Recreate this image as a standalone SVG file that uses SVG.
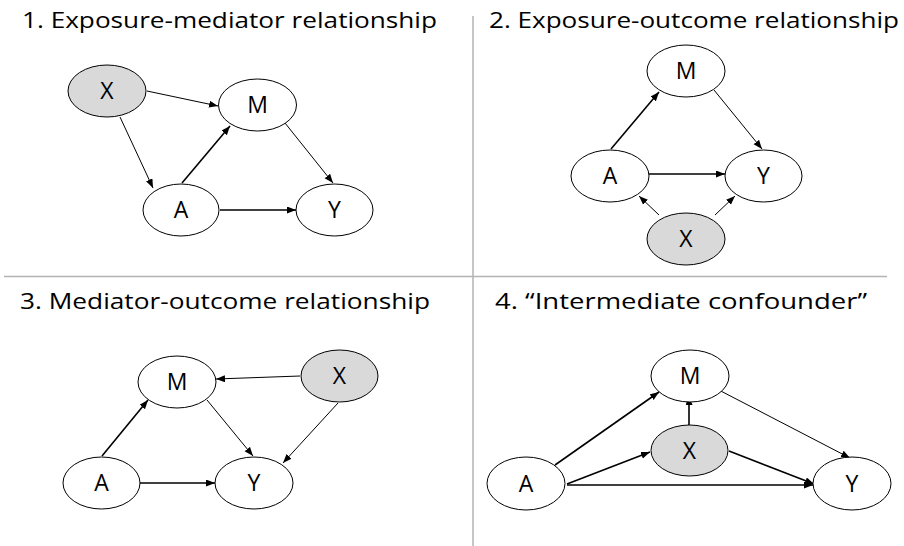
<svg xmlns="http://www.w3.org/2000/svg" width="904" height="546" viewBox="0 0 904 546">
<defs>
<marker id="ah" markerUnits="userSpaceOnUse" markerWidth="10" markerHeight="8" refX="9" refY="3.5" orient="auto">
<path d="M0,0 L9,3.5 L0,7 z" fill="#000"/>
</marker>
<style>
.title{font-family:"Open Sans","Noto Sans","Liberation Sans",sans-serif;font-size:21.5px;fill:#000}
.lbl{font-family:"Open Sans","Noto Sans","Liberation Sans",sans-serif;font-size:23px;fill:#000;text-anchor:middle}
.n{fill:#fff;stroke:#000;stroke-width:1}
.g{fill:#d9d9d9;stroke:#000;stroke-width:1}
.e{stroke:#000;stroke-width:1;fill:none;marker-end:url(#ah)}
.t{stroke:#000;stroke-width:1.6;fill:none;marker-end:url(#ah)}
.div{stroke:#b3b3b3;stroke-width:1.5}
</style>
</defs>
<rect width="904" height="546" fill="#fff"/>
<g id="dividers">
<line class="div" x1="473" y1="16" x2="473" y2="546"/>
<line class="div" x1="4" y1="276.5" x2="887" y2="276.5"/>
</g>
<g id="titles">
<text class="title" x="22" y="28" textLength="415" lengthAdjust="spacingAndGlyphs">1. Exposure-mediator relationship</text>
<text class="title" x="489" y="28" textLength="410" lengthAdjust="spacingAndGlyphs">2. Exposure-outcome relationship</text>
<text class="title" x="20" y="309" textLength="410" lengthAdjust="spacingAndGlyphs">3. Mediator-outcome relationship</text>
<text class="title" x="495" y="309" textLength="372" lengthAdjust="spacingAndGlyphs">4. “Intermediate confounder”</text>
</g>
<g id="connectors">
<line class="e" x1="147" y1="91" x2="218" y2="106"/>
<line class="e" x1="120" y1="117" x2="153" y2="188"/>
<line class="t" x1="182" y1="183" x2="230" y2="126"/>
<line class="e" x1="285" y1="123" x2="333" y2="183"/>
<line class="t" x1="220" y1="210" x2="296" y2="210"/>
<line class="t" x1="611" y1="149" x2="659" y2="92"/>
<line class="e" x1="714" y1="90" x2="762" y2="149"/>
<line class="t" x1="649" y1="174" x2="725" y2="174"/>
<line class="e" x1="659" y1="215" x2="639" y2="196"/>
<line class="e" x1="715" y1="215" x2="735" y2="196"/>
<line class="e" x1="300" y1="376" x2="216" y2="379"/>
<line class="t" x1="102" y1="456" x2="148" y2="400"/>
<line class="e" x1="207" y1="400" x2="253" y2="456"/>
<line class="e" x1="338" y1="403" x2="283" y2="463"/>
<line class="t" x1="140" y1="483" x2="215" y2="483"/>
<line class="t" x1="555" y1="465" x2="659" y2="392"/>
<line class="t" x1="567" y1="484" x2="650" y2="452"/>
<line class="t" x1="567" y1="485" x2="813" y2="485"/>
<line class="t" x1="689" y1="425" x2="689" y2="396"/>
<line class="t" x1="729" y1="451" x2="814" y2="484"/>
<line class="e" x1="715" y1="388" x2="850" y2="458"/>
</g>
<g id="q1-X"><ellipse class="g" cx="107" cy="91" rx="39" ry="26"/><text class="lbl" x="107" y="99">X</text></g>
<g id="q1-M"><ellipse class="n" cx="257.5" cy="105" rx="39" ry="26"/><text class="lbl" x="257.5" y="113">M</text></g>
<g id="q1-A"><ellipse class="n" cx="181" cy="210" rx="38" ry="26"/><text class="lbl" x="181" y="218">A</text></g>
<g id="q1-Y"><ellipse class="n" cx="334.5" cy="210" rx="38.5" ry="26"/><text class="lbl" x="334.5" y="218">Y</text></g>
<g id="q2-M"><ellipse class="n" cx="686" cy="71" rx="39" ry="26"/><text class="lbl" x="686" y="79">M</text></g>
<g id="q2-A"><ellipse class="n" cx="610" cy="176" rx="39" ry="26"/><text class="lbl" x="610" y="184">A</text></g>
<g id="q2-Y"><ellipse class="n" cx="763.5" cy="176" rx="38.5" ry="26"/><text class="lbl" x="763.5" y="184">Y</text></g>
<g id="q2-X"><ellipse class="g" cx="686" cy="239" rx="39" ry="26"/><text class="lbl" x="686" y="247">X</text></g>
<g id="q3-M"><ellipse class="n" cx="177" cy="382" rx="39" ry="26"/><text class="lbl" x="177" y="390">M</text></g>
<g id="q3-X"><ellipse class="g" cx="339.5" cy="376" rx="38.5" ry="26"/><text class="lbl" x="339.5" y="384">X</text></g>
<g id="q3-A"><ellipse class="n" cx="101.5" cy="483" rx="38.5" ry="26"/><text class="lbl" x="101.5" y="491">A</text></g>
<g id="q3-Y"><ellipse class="n" cx="254" cy="483" rx="39" ry="26"/><text class="lbl" x="254" y="491">Y</text></g>
<g id="q4-M"><ellipse class="n" cx="690" cy="376" rx="39" ry="26"/><text class="lbl" x="690" y="384">M</text></g>
<g id="q4-X"><ellipse class="g" cx="689.5" cy="450.5" rx="38.5" ry="25.5"/><text class="lbl" x="689.5" y="458.5">X</text></g>
<g id="q4-A"><ellipse class="n" cx="526" cy="483.5" rx="39" ry="26.5"/><text class="lbl" x="526" y="491.5">A</text></g>
<g id="q4-Y"><ellipse class="n" cx="852" cy="483.5" rx="39" ry="26.5"/><text class="lbl" x="852" y="491.5">Y</text></g>
</svg>
